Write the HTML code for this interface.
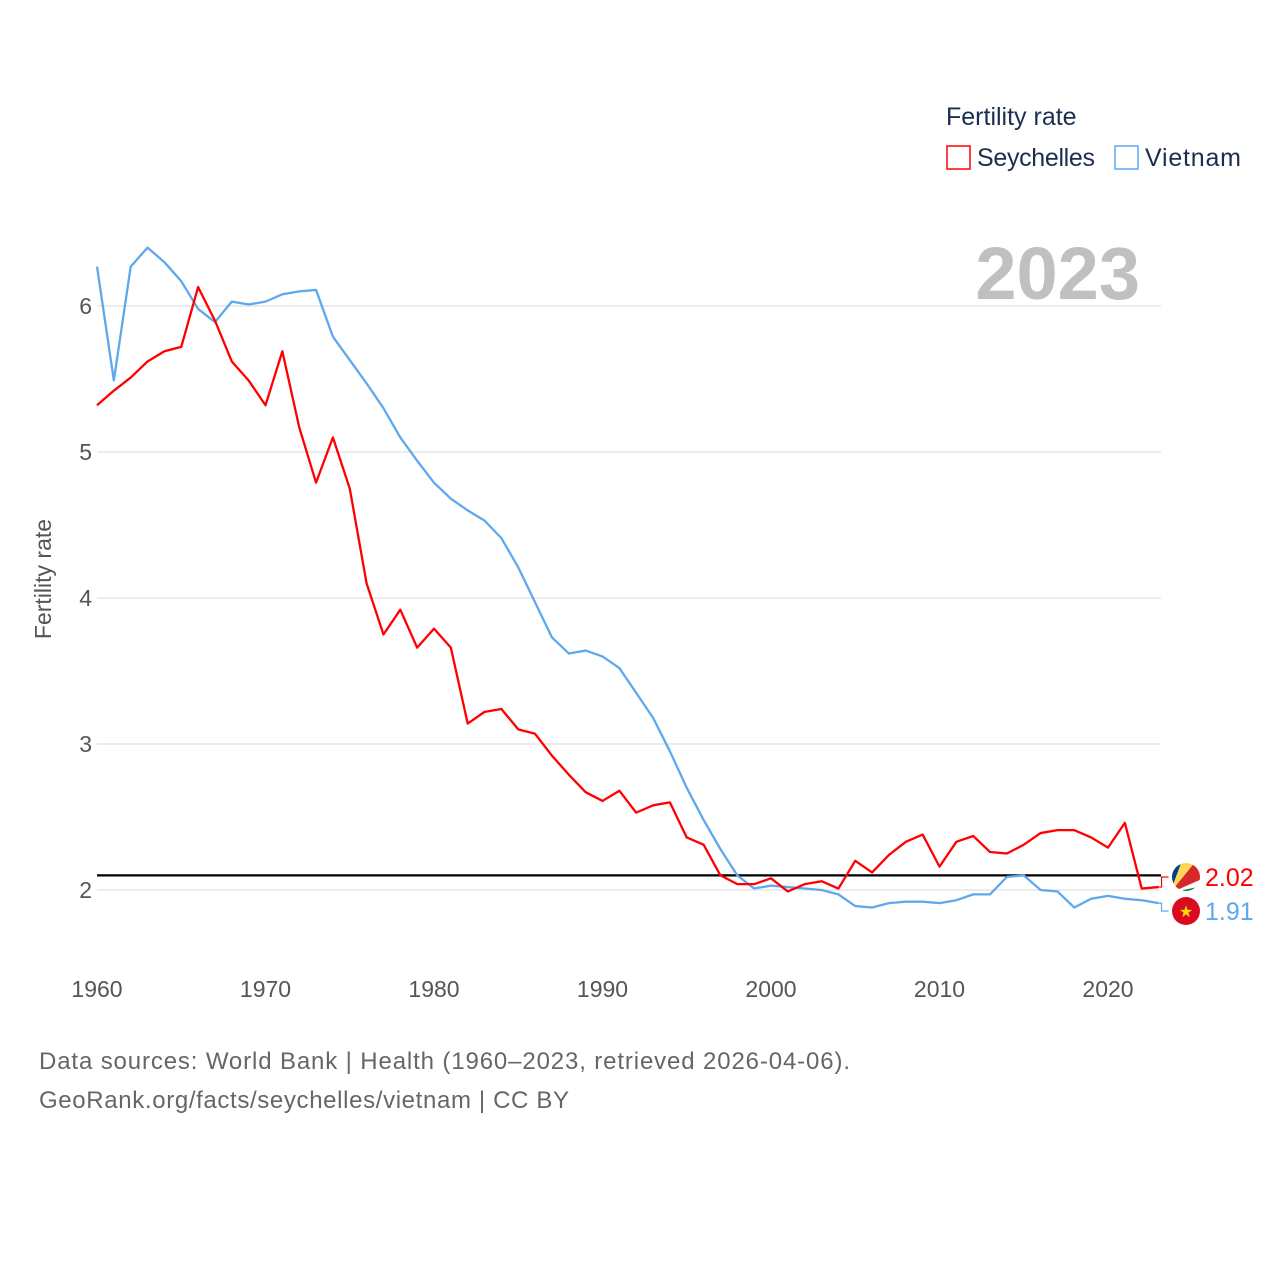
<!DOCTYPE html>
<html><head><meta charset="utf-8"><style>
html,body{margin:0;padding:0;background:#fff;}
body{width:1280px;height:1280px;overflow:hidden;font-family:"Liberation Sans",sans-serif;}
</style></head><body>
<svg id="chart" width="1280" height="1280" xmlns="http://www.w3.org/2000/svg" font-family="Liberation Sans, sans-serif">
<defs><clipPath id="flagclip"><circle cx="1186" cy="877" r="14"/></clipPath></defs>
<g id="grid"></g>
<g id="yticks"></g>
<g id="xticks"></g>
<text transform="translate(51,579) rotate(-90)" text-anchor="middle" font-size="23" fill="#555">Fertility rate</text>
<text x="1140" y="299" text-anchor="end" font-size="74" font-weight="bold" fill="#c0c0c0">2023</text>
<text x="946" y="125" font-size="25" fill="#1a2e50">Fertility rate</text>
<g>
<rect x="947" y="146" width="23" height="23" fill="none" stroke="#ff0000" stroke-width="1.5"/>
<text x="977" y="166" font-size="25" fill="#1a2e50" textLength="118">Seychelles</text></g>
<g>
<rect x="1115" y="146" width="23" height="23" fill="none" stroke="#5ea8ee" stroke-width="1.5"/>
<text x="1145" y="166" font-size="25" fill="#1a2e50" textLength="96">Vietnam</text></g>
<g id="series"></g>
<g id="ends"></g>
<text x="39" y="1069" font-size="24" fill="#666" textLength="811">Data sources: World Bank | Health (1960–2023, retrieved 2026-04-06).</text>
<text x="39" y="1108" font-size="24" fill="#666" textLength="530">GeoRank.org/facts/seychelles/vietnam | CC BY</text>
</svg>
<script>
const years=[];for(let y=1960;y<=2023;y++)years.push(y);
const seychelles=[5.32,5.42,5.51,5.62,5.69,5.72,6.13,5.90,5.62,5.49,5.32,5.69,5.17,4.79,5.10,4.75,4.10,3.75,3.92,3.66,3.79,3.66,3.14,3.22,3.24,3.10,3.07,2.92,2.79,2.67,2.61,2.68,2.53,2.58,2.60,2.36,2.31,2.10,2.04,2.04,2.08,1.99,2.04,2.06,2.01,2.20,2.12,2.24,2.33,2.38,2.16,2.33,2.37,2.26,2.25,2.31,2.39,2.41,2.41,2.36,2.29,2.46,2.01,2.02];
const vietnam=[6.27,5.49,6.27,6.40,6.30,6.17,5.98,5.89,6.03,6.01,6.03,6.08,6.10,6.11,5.79,5.63,5.47,5.30,5.10,4.94,4.79,4.68,4.60,4.53,4.41,4.21,3.97,3.73,3.62,3.64,3.60,3.52,3.35,3.18,2.95,2.70,2.48,2.28,2.10,2.01,2.03,2.02,2.01,2.00,1.97,1.89,1.88,1.91,1.92,1.92,1.91,1.93,1.97,1.97,2.09,2.10,2.00,1.99,1.88,1.94,1.96,1.94,1.93,1.91];
const yTicks=[2,3,4,5,6];
const xTicks=[1960,1970,1980,1990,2000,2010,2020];
const replacement=[2.1];
const NS='http://www.w3.org/2000/svg';
const X=y=>97+(y-1960)*16.85;
const Y=v=>890-(v-2)*146;
function el(t,a,p){const e=document.createElementNS(NS,t);for(const k in a)e.setAttribute(k,a[k]);p.appendChild(e);return e;}
const grid=document.getElementById('grid'),yt=document.getElementById('yticks'),xt=document.getElementById('xticks');
yTicks.forEach(v=>{
 const l=el('line',{x1:97,x2:1161,y1:Y(v),y2:Y(v),stroke:'#e6e6e6','stroke-width':1.5},grid);
 
 
 const t=el('text',{x:92,y:Y(v)+8,'text-anchor':'end','font-size':23,fill:'#555'},yt);t.textContent=v;
 
 
});
xTicks.forEach(v=>{
 const t=el('text',{x:X(v),y:997,'text-anchor':'middle','font-size':23,fill:'#555'},xt);t.textContent=v;
 
 
});
const s=document.getElementById('series');
replacement.forEach(v=>{
 const l=el('line',{x1:97,x2:1161,y1:Y(v),y2:Y(v),stroke:'#000','stroke-width':2.2},s);
 
 
});
function line(data,color,name){
 const p=el('polyline',{points:data.map((v,i)=>X(years[i])+','+Y(v)).join(' '),fill:'none',stroke:color,'stroke-width':2.3,'stroke-linejoin':'round'},s);
 
 
}
line(vietnam,'#5ea8ee','vietnam-line');
line(seychelles,'#ff0000','seychelles-line');
const ends=document.getElementById('ends');
function endLabel(v,color,ly,name,flag){
 const x0=X(years[years.length-1]);
 el('polyline',{points:`${x0},${Y(v)} ${x0+3},${Y(v)} ${x0+3},${ly} ${x0+10},${ly}`,fill:'none',stroke:color,'stroke-width':1.2},ends);
 const g=el('g',{},ends);
 
 
 if(flag==='vn'){el('circle',{cx:1186,cy:ly,r:14,fill:'#da0b1e'},g);const st=el('text',{x:1186,y:ly+6,'text-anchor':'middle','font-size':16,fill:'#ffdd00'},g);st.textContent='★';}
 else{
  const c=el('g',{'clip-path':'url(#flagclip)'},g);
  el('rect',{x:1170,y:ly-16,width:32,height:32,fill:'#fff'},c);
  el('path',{d:`M1170,${ly+16} L1170,${ly-16} L1182,${ly-16} Z`,fill:'#003f87'},c);
  el('path',{d:`M1170,${ly+16} L1182,${ly-16} L1196,${ly-16} Z`,fill:'#fcd856'},c);
  el('path',{d:`M1170,${ly+16} L1196,${ly-16} L1202,${ly-16} L1202,${ly+2} Z`,fill:'#d62828'},c);
  el('path',{d:`M1170,${ly+16} L1202,${ly+9} L1202,${ly+16} Z`,fill:'#007a3d'},c);}
 const t=el('text',{x:1205,y:ly+9,'font-size':25,fill:color},ends);t.textContent=v.toFixed(2);
 
 
}
endLabel(seychelles[seychelles.length-1],'#ff0000',877,'seychelles','sc');
endLabel(vietnam[vietnam.length-1],'#5ea8ee',911,'vietnam','vn');
</script>
</body></html>
